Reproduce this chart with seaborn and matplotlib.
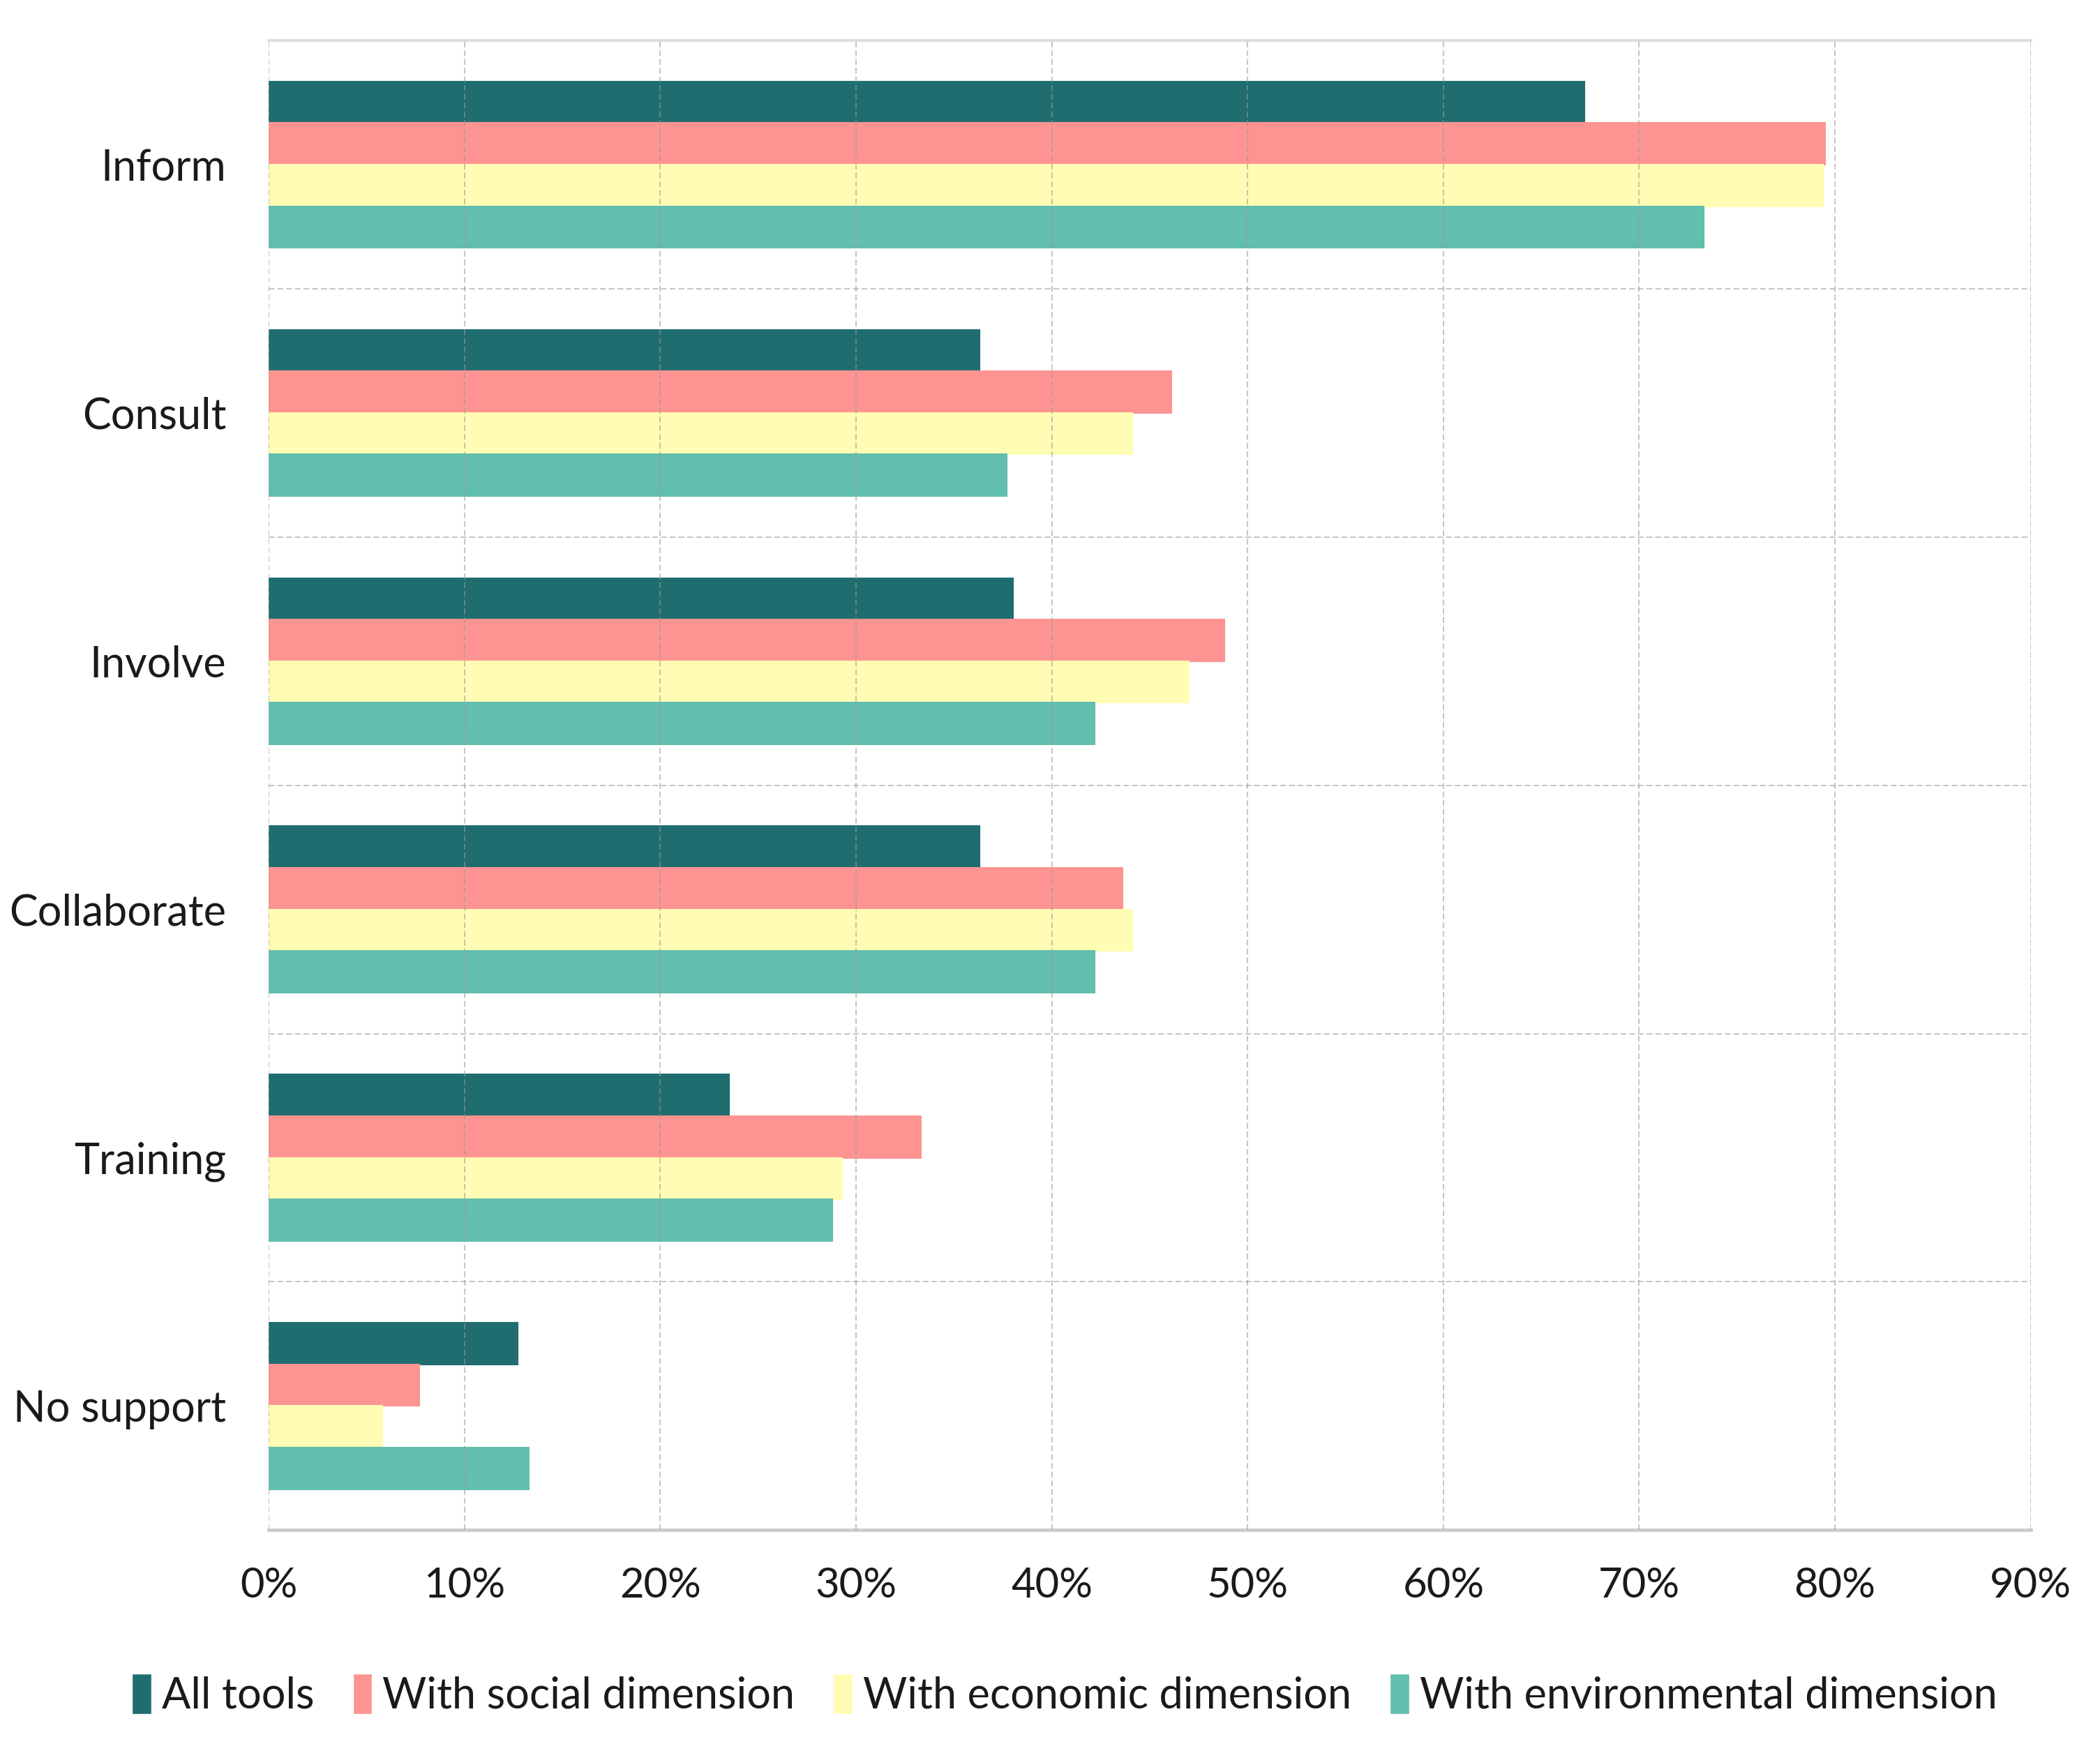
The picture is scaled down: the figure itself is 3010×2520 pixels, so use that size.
import numpy as np
import pandas as pd
import matplotlib
matplotlib.use("Agg")
import matplotlib.pyplot as plt
import seaborn as sns
from matplotlib.ticker import FuncFormatter, MultipleLocator

categories = ["Inform", "Consult", "Involve", "Collaborate", "Training", "No support"]
series_names = ["All tools", "With social dimension", "With economic dimension",
                "With environmental dimension"]
all_tools = [67.2, 36.3, 38.0, 36.3, 23.5, 12.7]
social = [79.5, 46.1, 48.8, 43.6, 33.3, 7.7]
economic = [79.4, 44.1, 47.0, 44.1, 29.3, 5.8]
environmental = [73.3, 37.7, 42.2, 42.2, 28.8, 13.3]
x_ticks = list(range(0, 100, 10))

colors = ["#1f6d6f", "#fd9491", "#fffdb3", "#62bead"]

sns.set_theme(style="white")
plt.rcParams['font.family'] = ['Lato', 'DejaVu Sans']

df = pd.DataFrame({
    "category": categories * 4,
    "series": sum([[s] * len(categories) for s in series_names], []),
    "value": all_tools + social + economic + environmental,
})

fig = plt.figure(figsize=(30.10, 25.20), dpi=100)
ax = fig.add_axes([0.128, 0.1296, 0.839, 0.8474])

sns.barplot(data=df, x="value", y="category", hue="series", orient="h",
            order=categories, hue_order=series_names, palette=colors,
            width=0.67, saturation=1, ax=ax, legend=True)

for p, c in zip(ax.patches, [c for c in colors for _ in categories]):
    p.set_edgecolor(c)
    p.set_linewidth(1.5)

ax.set_xlim(0, 90)
ax.set_ylim(len(categories) - 0.5, -0.5)
ax.xaxis.set_major_locator(MultipleLocator(10))
ax.xaxis.set_major_formatter(FuncFormatter(lambda v, pos: f"{v:.0f}%"))
ax.set_xlabel("")
ax.set_ylabel("")

ax.grid(False)
grid_kw = dict(color="#9a9a9a", linestyle=(0, (4, 2)), linewidth=1.5, alpha=0.55, zorder=5)
for xv in x_ticks:
    ax.axvline(xv, **grid_kw)
for yv in np.arange(0.5, len(categories) - 0.5, 1.0):
    ax.axhline(yv, **grid_kw)

for s in ["left", "right"]:
    ax.spines[s].set_visible(False)
ax.spines["top"].set_color("#dddddd")
ax.spines["top"].set_linewidth(3)
ax.spines["bottom"].set_color("#cccccc")
ax.spines["bottom"].set_linewidth(3.5)

ax.tick_params(axis="x", length=0, pad=38, labelsize=43, labelcolor="#1a1a1a")
ax.tick_params(axis="y", length=0, pad=44, labelsize=44, labelcolor="#1a1a1a")

handles, labels = ax.get_legend_handles_labels()
ax.get_legend().remove()
fig.legend(handles, labels, loc="center", bbox_to_anchor=(0.507, 0.036), ncol=4,
           frameon=False, fontsize=44, handlelength=0.45, handleheight=1.1,
           handletextpad=0.25, columnspacing=0.9, labelcolor="#1a1a1a")

fig.savefig("out.png", dpi=100, facecolor="white")
